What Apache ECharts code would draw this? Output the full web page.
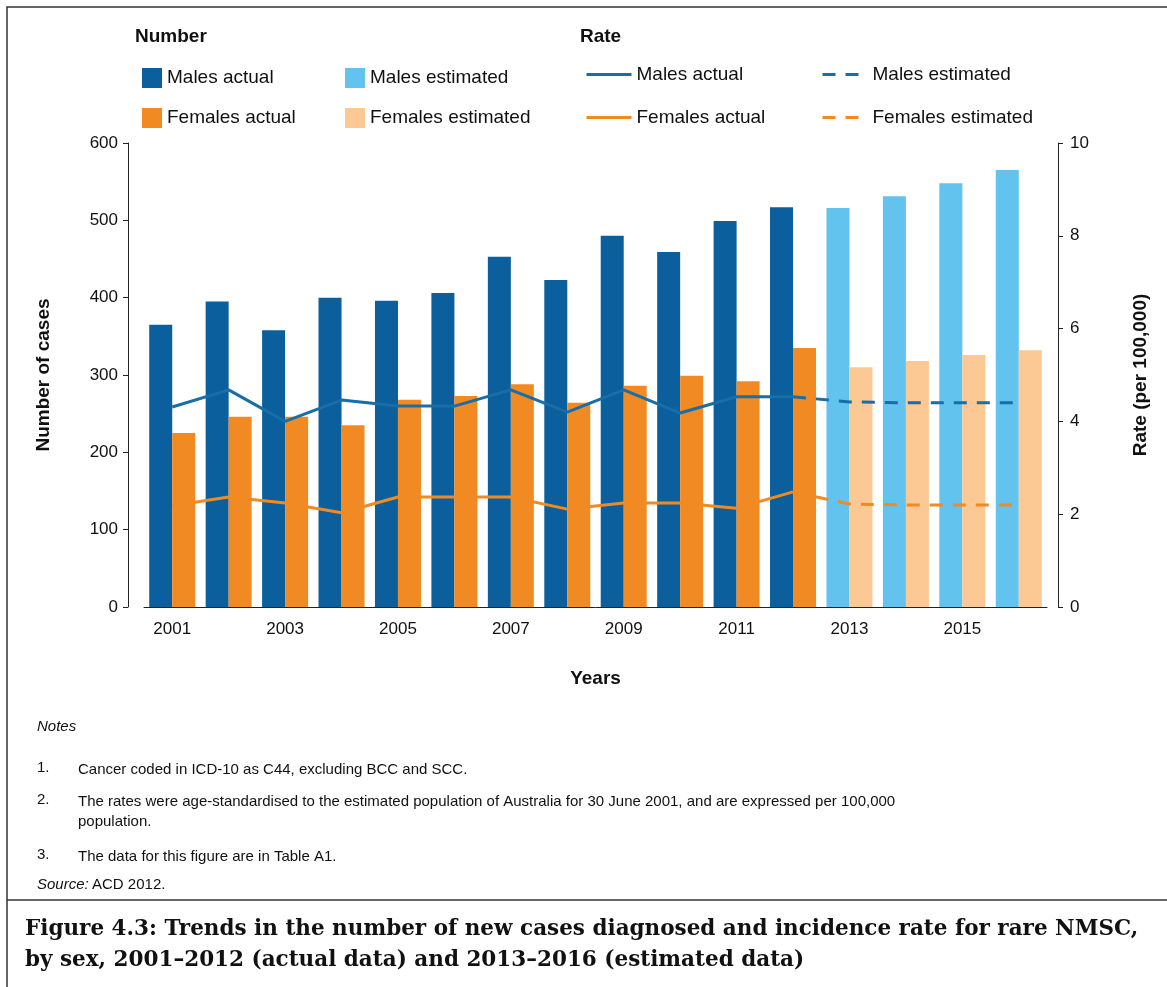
<!DOCTYPE html>
<html>
<head>
<meta charset="utf-8" />
<script src="https://cdn.jsdelivr.net/npm/echarts@6/dist/echarts.min.js"></script>
<style>body{margin:0;background:#fff}</style>
</head>
<body>
<div id="main" style="width:1167px;height:987px;"></div>
<script>
    var years = ['2001','2002','2003','2004','2005','2006','2007','2008','2009','2010','2011','2012','2013','2014','2015','2016'];
    var malesActual = [365, 395, 358, 400, 396, 406, 453, 423, 480, 459, 499, 517, null, null, null, null];
    var malesEst = [null, null, null, null, null, null, null, null, null, null, null, null, 516, 531, 548, 565];
    var femalesActual = [225, 246, 246, 235, 268, 273, 288, 264, 286, 299, 292, 335, null, null, null, null];
    var femalesEst = [null, null, null, null, null, null, null, null, null, null, null, null, 310, 318, 326, 332];
    var rateMalesActual = [4.31, 4.68, 4.0, 4.46, 4.33, 4.33, 4.68, 4.2, 4.68, 4.18, 4.53, 4.53, null, null, null, null];
    var rateMalesEst = [null, null, null, null, null, null, null, null, null, null, null, 4.53, 4.42, 4.4, 4.4, 4.4];
    var rateFemalesActual = [2.18, 2.37, 2.24, 2.03, 2.37, 2.37, 2.37, 2.11, 2.24, 2.24, 2.13, 2.48, null, null, null, null];
    var rateFemalesEst = [null, null, null, null, null, null, null, null, null, null, null, 2.48, 2.22, 2.2, 2.2, 2.2];
    var notes = [
        ['1.', 'Cancer coded in ICD-10 as C44, excluding BCC and SCC.'],
        ['2.', 'The rates were age-standardised to the estimated population of Australia for 30 June 2001, and are expressed per 100,000\npopulation.'],
        ['3.', 'The data for this figure are in Table A1.']
    ];

    var C = { ma: '#0a5f9c', me: '#62c3ee', fa: '#f28a23', fe: '#fcc994', rm: '#186ea6', rf: '#f28a23' };
    var font = 'Arial, "Liberation Sans", sans-serif';

    // legend entries: series name, label, left, top
    var legendSpec = [
        ['Males actual', 'Males actual', 137, 63],
        ['Males estimated', 'Males estimated', 340, 63],
        ['Females actual', 'Females actual', 137, 103],
        ['Females estimated', 'Females estimated', 340, 103],
        ['R Males actual', 'Males actual', 580, 60],
        ['R Males estimated', 'Males estimated', 816, 60],
        ['R Females actual', 'Females actual', 580, 103],
        ['R Females estimated', 'Females estimated', 816, 103]
    ];

    var chart = echarts.init(document.getElementById('main'));
    var option = {
        animation: false,
        legend: legendSpec.map(function (l, i) {
            var isLine = i >= 4;
            var o = {
                data: [l[0]], left: l[2], top: l[3],
                itemWidth: isLine ? 45 : 20, itemHeight: isLine ? 3 : 20, itemGap: 10,
                formatter: function () { return l[1]; },
                textStyle: { fontFamily: font, fontSize: 19, color: '#111' },
                selectedMode: false
            };
            if (isLine) {
                o.itemStyle = { color: 'transparent', borderColor: 'transparent', borderWidth: 0 };
                o.lineStyle = { width: 3 };
            } else o.icon = 'rect';
            return o;
        }),
        grid: { left: 144, right: 120, top: 143, bottom: 380 },
        xAxis: {
            type: 'category', data: years,
            axisLine: { lineStyle: { color: '#222' } },
            axisTick: { alignWithLabel: true, interval: 1, lineStyle: { color: '#222' } },
            axisLabel: { interval: 1, fontFamily: font, fontSize: 17, color: '#111', margin: 14 },
            name: 'Years', nameLocation: 'middle', nameGap: 62,
            nameTextStyle: { fontFamily: font, fontSize: 19, fontWeight: 'bold', color: '#111' }
        },
        yAxis: [{
            type: 'value', min: 0, max: 600, interval: 100, offset: 16,
            axisLine: { show: true, lineStyle: { color: '#222' } },
            axisTick: { show: true, lineStyle: { color: '#222' } },
            splitLine: { show: false },
            axisLabel: { fontFamily: font, fontSize: 17, color: '#111', margin: 10 },
            name: 'Number of cases', nameLocation: 'middle', nameGap: 75,
            nameTextStyle: { fontFamily: font, fontSize: 19, fontWeight: 'bold', color: '#111' }
        }, {
            type: 'value', min: 0, max: 10, interval: 2, offset: 11,
            axisLine: { show: true, lineStyle: { color: '#222' } },
            axisTick: { show: true, lineStyle: { color: '#222' } },
            splitLine: { show: false },
            axisLabel: { fontFamily: font, fontSize: 17, color: '#111', margin: 12 },
            name: 'Rate (per 100,000)', nameLocation: 'middle', nameGap: 73, nameRotate: 90,
            nameTextStyle: { fontFamily: font, fontSize: 19, fontWeight: 'bold', color: '#111' }
        }],
        series: [
            { name: 'Males actual', type: 'bar', stack: 'm', data: malesActual, itemStyle: { color: C.ma }, barWidth: 23, barGap: 0 },
            { name: 'Males estimated', type: 'bar', stack: 'm', data: malesEst, itemStyle: { color: C.me }, barWidth: 23, barGap: 0 },
            { name: 'Females actual', type: 'bar', stack: 'f', data: femalesActual, itemStyle: { color: C.fa }, barWidth: 23, barGap: 0 },
            { name: 'Females estimated', type: 'bar', stack: 'f', data: femalesEst, itemStyle: { color: C.fe }, barWidth: 23, barGap: 0 },
            { name: 'R Males actual', type: 'line', yAxisIndex: 1, data: rateMalesActual, symbol: 'none', lineStyle: { color: C.rm, width: 3 }, itemStyle: { color: C.rm } },
            { name: 'R Males estimated', type: 'line', yAxisIndex: 1, data: rateMalesEst, symbol: 'none', lineStyle: { color: C.rm, width: 3, type: [13, 10] }, itemStyle: { color: C.rm } },
            { name: 'R Females actual', type: 'line', yAxisIndex: 1, data: rateFemalesActual, symbol: 'none', lineStyle: { color: C.rf, width: 3 }, itemStyle: { color: C.rf } },
            { name: 'R Females estimated', type: 'line', yAxisIndex: 1, data: rateFemalesEst, symbol: 'none', lineStyle: { color: C.rf, width: 3, type: [13, 10] }, itemStyle: { color: C.rf } }
        ],
        graphic: [
            { type: 'rect', shape: { x: 7, y: 7, width: 1170, height: 1000 }, style: { fill: null, stroke: '#333', lineWidth: 1.5 } },
            { type: 'line', shape: { x1: 7, y1: 900, x2: 1167, y2: 900 }, style: { stroke: '#333', lineWidth: 1.5 } },
            { type: 'text', left: 135, top: 27, style: { text: 'Number', font: 'bold 19px ' + font, fill: '#111' } },
            { type: 'text', left: 580, top: 27, style: { text: 'Rate', font: 'bold 19px ' + font, fill: '#111' } },
            { type: 'text', left: 37, top: 719, style: { text: 'Notes', font: 'italic 15px ' + font, fill: '#111' } },
            { type: 'text', left: 37, top: 877, style: { rich: { i: { fontStyle: 'italic', fontSize: 15, fontFamily: font }, n: { fontSize: 15, fontFamily: font } }, text: '{i|Source:} {n|ACD 2012.}', fill: '#111' } },
            { type: 'text', left: 25, top: 914, style: { text: 'Figure 4.3: Trends in the number of new cases diagnosed and incidence rate for rare NMSC,\nby sex, 2001\u20132012 (actual data) and 2013\u20132016 (estimated data)', font: 'bold 21.5px "DejaVu Serif", serif', lineHeight: 31, fill: '#111' } }
        ].concat(notes.map(function (n, i) {
            var top = [760, 792, 847][i];
            return { type: 'group', children: [
                { type: 'text', left: 37, top: top, style: { text: n[0], font: '15px ' + font, fill: '#111' } },
                { type: 'text', left: 78, top: top, style: { text: n[1], font: '15px ' + font, lineHeight: 20, fill: '#111' } }
            ] };
        }))
    };
    chart.setOption(option);
</script>
</body>
</html>
